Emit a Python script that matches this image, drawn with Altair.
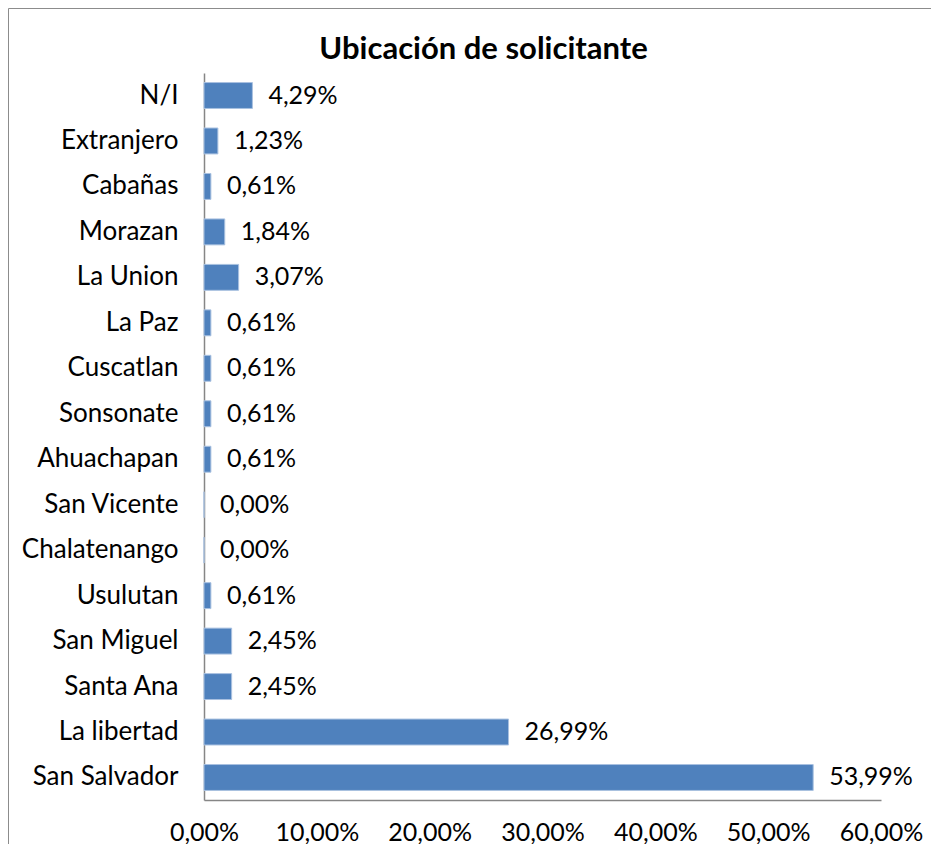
import altair as alt
import pandas as pd

categories = ["N/I", "Extranjero", "Cabañas", "Morazan", "La Union", "La Paz",
              "Cuscatlan", "Sonsonate", "Ahuachapan", "San Vicente", "Chalatenango",
              "Usulutan", "San Miguel", "Santa Ana", "La libertad", "San Salvador"]
values = [4.29, 1.23, 0.61, 1.84, 3.07, 0.61, 0.61, 0.61, 0.61, 0.00, 0.00,
          0.61, 2.45, 2.45, 26.99, 53.99]
x_ticks = [0, 10, 20, 30, 40, 50, 60]

df = pd.DataFrame({"cat": categories, "val": values})

FONT = "Lato"
W, H = 677, 727

base = alt.Chart(df).encode(
    y=alt.Y("cat:N", sort=categories,
            scale=alt.Scale(paddingInner=0.43, paddingOuter=0.21),
            axis=alt.Axis(title=None, ticks=False, labelFontSize=26, labelFont=FONT,
                          labelColor="#000000", labelPadding=26,
                          domainColor="#868686", domainWidth=1.5))
)

bars = base.mark_bar(color="#4F81BD", stroke="#a9c1e0", strokeWidth=1).encode(
    x=alt.X("val:Q", scale=alt.Scale(domain=[0, 60], nice=False),
            axis=alt.Axis(title=None, values=x_ticks, grid=False, ticks=False,
                          labelExpr="replace(format(datum.value, '.2f'), '.', ',') + '%'",
                          labelFontSize=25, labelFont=FONT, labelColor="#000000",
                          labelOverlap=False, labelFlush=False, labelBaseline="alphabetic",
                          labelPadding=40, domainColor="#868686", domainWidth=1.5))
)

labels = base.transform_calculate(
    lab="replace(format(datum.val, '.2f'), '.', ',') + '%'"
).mark_text(align="left", baseline="middle", dx=16, fontSize=25, font=FONT,
            color="#000000").encode(
    x=alt.X("val:Q"),
    text="lab:N",
)

border = alt.Chart(alt.Data(values=[{}])).mark_rect(
    fillOpacity=0, stroke="#8c8c8c", strokeWidth=1
).encode(
    x=alt.value(-195.5), x2=alt.value(3000),
    y=alt.value(-64.5), y2=alt.value(3000),
)

chart = alt.layer(bars, labels, border).properties(
    width=W, height=H,
    title=alt.TitleParams("Ubicación de solicitante", font=FONT, fontSize=31,
                          fontWeight="bold", color="#000000", anchor="middle",
                          dx=-59, offset=-82, baseline="alphabetic"),
    autosize=alt.AutoSizeParams(type="none"),
    padding={"left": 196, "top": 65, "right": 50, "bottom": 44},
).configure(background="#ffffff").configure_view(stroke=None)

chart.save("out.html", embed_options={"renderer": "svg", "actions": False})
